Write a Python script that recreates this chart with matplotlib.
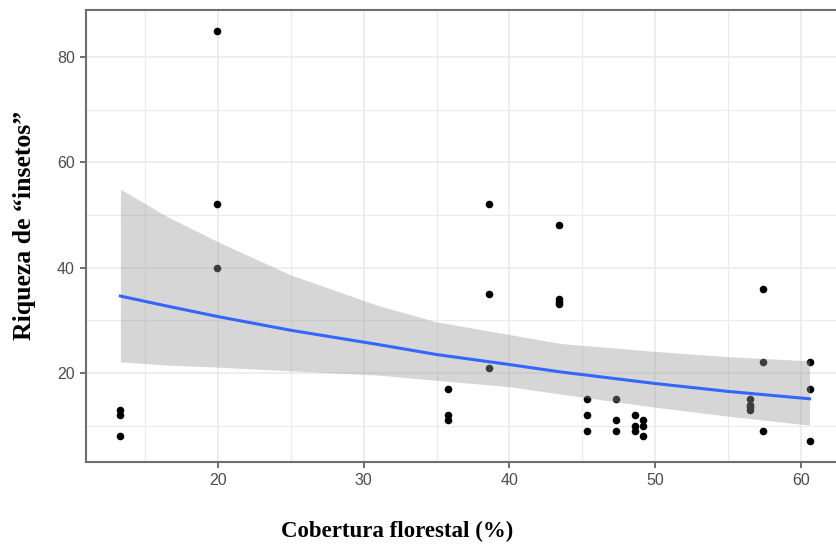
import matplotlib.pyplot as plt
import numpy as np

# dados
cobertura = [13.3, 13.3, 13.3, 19.9, 19.9, 19.9, 35.8, 35.8, 35.8,
             38.6, 38.6, 38.6, 43.4, 43.4, 43.4, 43.4, 45.3, 45.3, 45.3,
             47.3, 47.3, 47.3, 48.6, 48.6, 48.6, 49.2, 49.2, 49.2,
             56.5, 56.5, 56.5, 56.5, 57.4, 57.4, 57.4, 60.6, 60.6, 60.6]
riqueza = [13, 12, 8, 85, 52, 40, 17, 12, 11,
           52, 35, 21, 48, 34, 33.5, 33, 15, 12, 9,
           15, 11, 9, 12, 10, 9, 11, 10, 8,
           15, 14, 13.5, 13, 36, 22, 9, 22, 17, 7]

# curva ajustada e intervalo de confiança
ajuste_x = [13.3, 16.5, 20.0, 25.0, 31.0, 35.0, 40.0, 43.5, 50.0, 55.0, 60.6]
ajuste_y = [34.6, 32.7, 30.7, 28.1, 25.4, 23.5, 21.6, 20.2, 18.0, 16.5, 15.1]
ic_sup = [54.9, 49.7, 44.9, 38.6, 32.8, 29.7, 27.3, 25.6, 24.1, 23.1, 22.3]
ic_inf = [22.1, 21.5, 21.1, 20.4, 19.6, 18.6, 17.4, 16.0, 13.5, 11.8, 10.1]

fig = plt.figure(figsize=(8.36, 5.47), dpi=100)
ax = fig.add_axes([86 / 836, 85 / 547, 759.5 / 836, 452 / 547])

ax.scatter(cobertura, riqueza, s=30, color='black', zorder=2, linewidths=0)
ax.fill_between(ajuste_x, ic_inf, ic_sup, color='#999999', alpha=0.4,
                linewidth=0, zorder=3)
ax.plot(ajuste_x, ajuste_y, color='#3366FF', linewidth=2.2, zorder=4)

ax.set_xlim(10.94, 63.07)
ax.set_ylim(3.1, 88.9)
ax.set_xticks([20, 30, 40, 50, 60])
ax.set_xticks([15, 25, 35, 45, 55], minor=True)
ax.set_yticks([20, 40, 60, 80])
ax.set_yticks([10, 30, 50, 70], minor=True)

ax.grid(True, which='major', color='#EBEBEB', linewidth=1.2, zorder=0)
ax.grid(True, which='minor', color='#EBEBEB', linewidth=0.8, zorder=0)
ax.set_axisbelow(True)

for lado in ax.spines.values():
    lado.set_color('#6E6E6E')
    lado.set_linewidth(1.5)

ax.tick_params(which='major', length=4, width=1.2, color='#555555',
               labelcolor='#4D4D4D', labelsize=11.5, pad=4)
ax.tick_params(which='minor', length=0)
for lab in ax.get_xticklabels() + ax.get_yticklabels():
    lab.set_family('Liberation Sans')

fig.text(397.5 / 836, 1 - 531 / 547, 'Cobertura florestal (%)',
         family='Liberation Serif', weight='bold', fontsize=16.5,
         ha='center', va='center')
fig.text(25 / 836, 1 - 225 / 547, 'Riqueza de \u201cinsetos\u201d',
         family='Liberation Serif', weight='bold', fontsize=18.5,
         rotation=90, ha='center', va='center')

fig.savefig('out.png', dpi=100)
plt.close()
